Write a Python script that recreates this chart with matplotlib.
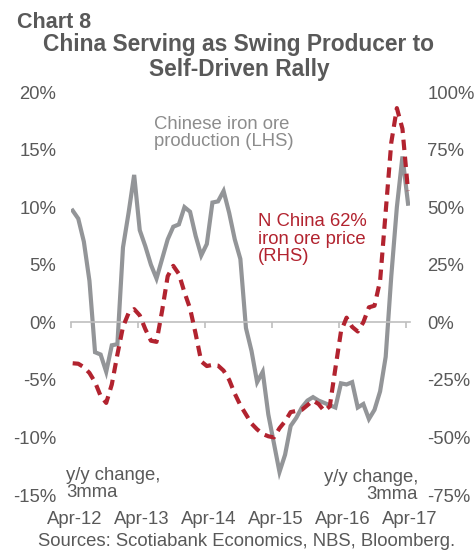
import numpy as np
import matplotlib
matplotlib.use("Agg")
import matplotlib.pyplot as plt

# monthly, Apr-12 .. Apr-17 (3mma, y/y %)
production = [9.7, 9.0, 7.0, 3.6, -2.6, -2.8, -4.3, -2.0, -1.9, 6.5,
              9.5, 12.8, 8.0, 6.6, 5.0, 3.8, 5.5, 7.2, 8.3, 8.5,
              10.0, 9.6, 7.5, 5.8, 6.8, 10.4, 10.5, 11.4, 9.5, 7.2,
              5.5, -0.5, -2.5, -5.2, -4.3, -8.0, -10.5, -13.0, -11.5, -9.0,
              -8.3, -7.4, -6.8, -6.5, -6.8, -7.0, -7.2, -7.4, -5.3, -5.4,
              -5.2, -7.4, -7.1, -8.4, -7.6, -6.0, -3.0, 4.0, 10.0, 14.4,
              10.3]
price = [-17.8, -18.0, -19.5, -22.0, -26.0, -32.0, -35.0, -27.0, -14.0, -2.0,
         4.0, 5.7, 3.0, -3.0, -8.0, -8.5, 5.0, 20.0, 24.5, 21.0,
         13.0, 6.0, -5.0, -17.0, -19.0, -18.5, -18.8, -21.0, -25.0, -31.0,
         -36.0, -40.0, -44.0, -46.5, -48.5, -49.5, -50.0, -46.0, -43.0, -39.0,
         -38.5, -38.0, -36.0, -34.0, -35.5, -38.5, -36.5, -20.0, -4.0, 2.0,
         -2.0, -4.0, 0.0, 6.5, 7.2, 18.0, 48.0, 78.0, 93.0, 84.0,
         57.0]
tick_labels = ["Apr-12", "Apr-13", "Apr-14", "Apr-15", "Apr-16", "Apr-17"]

GRAY = "#939598"
RED = "#B2232F"
TXT = "#595959"
FS = 13.3
plt.rcParams['font.family'] = ['Liberation Sans', 'DejaVu Sans']

W, H = 477, 550
fig = plt.figure(figsize=(W / 100, H / 100), dpi=100)
ax = fig.add_axes([71 / W, 1 - 495 / H, (410 - 71) / W, (495 - 92) / H])
ax2 = ax.twinx()

months = np.arange(len(production))
ticks = np.arange(len(tick_labels)) * 12 - 0.3

ax.plot(months, production, color=GRAY, lw=3.0, solid_joinstyle='miter')
ax2.plot(months, price, color=RED, lw=3.0, dashes=(2.5, 1.6), dash_capstyle='butt')

ax.set_xlim(-0.3, 60.35)
ax.set_ylim(-15, 20)
ax.set_yticks(np.arange(-15, 21, 5))
ax.set_yticklabels([f"{v}%" for v in range(-15, 21, 5)])
ax2.set_ylim(-75, 100)
ax2.set_yticks(np.arange(-75, 101, 25))
ax2.set_yticklabels([f"{v}%" for v in range(-75, 101, 25)])

for a in (ax, ax2):
    for s in ('top', 'left', 'right', 'bottom'):
        a.spines[s].set_visible(False)
    a.patch.set_visible(False)

ax.spines['bottom'].set_visible(True)
ax.spines['bottom'].set_position(('data', 0))
ax.spines['bottom'].set_color("#BFBFBF")
ax.spines['bottom'].set_linewidth(1.2)
ax.set_xticks(ticks)
ax.tick_params(axis='x', direction='out', length=4, color="#BFBFBF", width=1.2,
               labelbottom=False)
ax.tick_params(axis='y', length=0, pad=10.5, labelsize=FS, labelcolor=TXT)
ax2.tick_params(axis='y', length=0, pad=12.5, labelsize=FS, labelcolor=TXT)

sec = ax.secondary_xaxis('bottom')
sec.set_xticks(ticks + 0.6)
sec.set_xticklabels(tick_labels)
sec.spines['bottom'].set_visible(False)
sec.tick_params(length=0, pad=11.5, labelsize=FS, labelcolor=TXT)

fig.text(17 / W, 1 - 23 / H, "Chart 8", fontsize=15.5, fontweight='bold', color=TXT,
         family=['Liberation Sans Narrow', 'Liberation Sans'], va='center', ha='left')
fig.text(239 / W, 1 - 57 / H, "China Serving as Swing Producer to\nSelf-Driven Rally",
         fontsize=16.4, fontweight='bold', color=TXT, ha='center', va='center',
         linespacing=1.1)

fig.text(154 / W, 1 - 133 / H, "Chinese iron ore\nproduction (LHS)", fontsize=FS,
         color="#8C8C8C", ha='left', va='center', linespacing=1.05)
fig.text(258 / W, 1 - 239 / H, "N China 62%\niron ore price\n(RHS)", fontsize=FS,
         color=RED, ha='left', va='center', linespacing=1.05)
fig.text(66 / W, 1 - 484 / H, "y/y change,\n3mma", fontsize=FS, color=TXT,
         ha='left', va='center', linespacing=1.05)
fig.text(418 / W, 1 - 486 / H, "y/y change,\n3mma", fontsize=FS, color=TXT,
         ha='right', va='center', linespacing=1.05, multialignment='right')
fig.text(247 / W, 1 - 542 / H, "Sources: Scotiabank Economics, NBS, Bloomberg.",
         fontsize=FS, color=TXT, ha='center', va='center')

fig.savefig("out.png", dpi=100)
